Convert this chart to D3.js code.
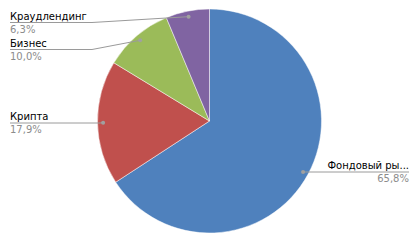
<!DOCTYPE html>
<html>
<head>
<meta charset="utf-8">
<script src="https://cdn.jsdelivr.net/npm/d3@7"></script>
<style>
  body { margin: 0; background: #fff; }
  text { font-family: "DejaVu Sans", Verdana, sans-serif; font-size: 10px; }
</style>
</head>
<body>
<div id="chart"></div>
<script>
var categories = ["Фондовый рынок", "Крипта", "Бизнес", "Краудлендинг"];
var shortNames = ["Фондовый ры...", "Крипта", "Бизнес", "Краудлендинг"];
var values = [65.8, 17.9, 10.0, 6.3];
var pctLabels = ["65,8%", "17,9%", "10,0%", "6,3%"];
var colors = ["#4f81bd", "#c0504d", "#9bbb59", "#8064a2"];

var svgWidth = 417;
var svgHeight = 240;
var cx = 209.5, cy = 121, radius = 112;

// where each label box sits (name line end, text anchor)
var labelLayout = [
  { x: 409, y: 172, anchor: "end" },
  { x: 10, y: 123, anchor: "start", elbow: 100 },
  { x: 10, y: 49.5, anchor: "start", elbow: 92 },
  { x: 10, y: 22.5, anchor: "start", elbow: 92 }
];

var svg = d3.select("#chart")
  .append("svg")
  .attr("width", svgWidth)
  .attr("height", svgHeight);

var g = svg.append("g")
  .attr("transform", `translate(${cx},${cy})`);

var data = categories.map(function(c, i) {
  return { name: c, short: shortNames[i], value: values[i], pct: pctLabels[i], color: colors[i], lay: labelLayout[i] };
});

var pie = d3.pie().sort(null).value(d => d.value);
var arc = d3.arc().innerRadius(0).outerRadius(radius);
var dotArc = d3.arc().innerRadius(radius * 0.95).outerRadius(radius * 0.95);

var arcs = pie(data);

g.selectAll("path.slice").data(arcs)
  .enter()
  .append("path")
  .attr("class", "slice")
  .attr("d", arc)
  .attr("fill", d => d.data.color)
  .attr("stroke", "#ffffff")
  .attr("stroke-opacity", 0.6)
  .attr("stroke-width", 0.8);

// leader lines
arcs.forEach(function(d) {
  var p = dotArc.centroid(d);
  var px = p[0] + cx, py = p[1] + cy;
  var lay = d.data.lay;
  var pts;
  if (lay.anchor === "end") {
    pts = [[px, py], [lay.x, lay.y]];
    pts[0][1] = lay.y;
  } else {
    pts = [[px, py], [lay.elbow, lay.y], [lay.x, lay.y]];
  }
  svg.append("polyline")
    .attr("points", pts.map(q => q.join(",")).join(" "))
    .attr("fill", "none")
    .attr("stroke", "#9a9a9a")
    .attr("stroke-width", 1);
  svg.append("circle")
    .attr("cx", px)
    .attr("cy", pts[0][1])
    .attr("r", 2)
    .attr("fill", "#a0a0a0");

  svg.append("text")
    .attr("x", lay.x)
    .attr("y", lay.y - 3)
    .attr("text-anchor", lay.anchor)
    .attr("fill", "#000")
    .text(d.data.short);
  svg.append("text")
    .attr("x", lay.x)
    .attr("y", lay.y + 10)
    .attr("text-anchor", lay.anchor)
    .attr("fill", "#8c8c8c")
    .text(d.data.pct);
});
</script>
</body>
</html>
